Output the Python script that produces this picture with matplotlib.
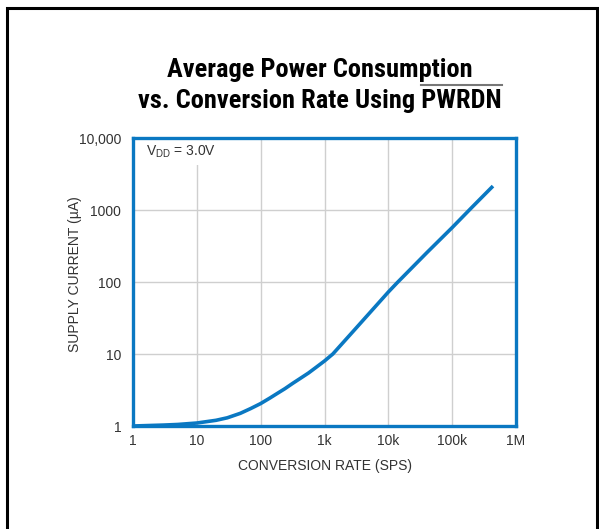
import matplotlib
matplotlib.use("Agg")
import matplotlib.pyplot as plt
from matplotlib import font_manager as fm
from matplotlib.patches import Rectangle
from matplotlib.lines import Line2D

# conversion rate (SPS) and supply current (uA)
rate = [1, 3, 5, 10, 20, 30, 48, 70, 100, 140, 178, 240, 316, 420, 562, 750,
        1000, 1350, 3000, 10000, 13800, 40000, 100000, 200000, 436000]
current = [1.0, 1.03, 1.05, 1.1, 1.2, 1.3, 1.5, 1.75, 2.05, 2.45, 2.8, 3.3,
           3.9, 4.6, 5.45, 6.6, 8.0, 10.0, 22.0, 72.6, 98.0, 255.0, 570.0,
           1070.0, 2150.0]

xticks = [1, 10, 100, 1e3, 1e4, 1e5, 1e6]
xlabels = ["1", "10", "100", "1k", "10k", "100k", "1M"]
yticks = [1, 10, 100, 1000, 10000]
ylabels = ["1", "10", "100", "1000", "10,000"]

installed = {f.name for f in fm.fontManager.ttflist}
def pick(*names):
    return [n for n in names if n in installed] + ["DejaVu Sans"]

body_font = pick("Liberation Sans", "Arimo")
title_font = pick("Roboto Condensed", "Archivo Narrow", "PT Sans Narrow",
                  "Asap Condensed", "Liberation Sans")
plt.rcParams["font.family"] = body_font

blue = "#0a78c2"
txt = "#333333"

fig = plt.figure(figsize=(5.99, 5.29), dpi=100)
ax = fig.add_axes([133 / 599, 1 - 426 / 529, 383 / 599, 288 / 529])

ax.plot(rate, current, color=blue, lw=2.6, solid_capstyle="butt",
        solid_joinstyle="round", zorder=3)

ax.set_xscale("log")
ax.set_yscale("log")
ax.set_xlim(1, 1e6)
ax.set_ylim(1, 1e4)
ax.set_xticks(xticks)
ax.set_xticklabels(xlabels)
ax.set_yticks(yticks)
ax.set_yticklabels(ylabels)
ax.minorticks_off()
ax.tick_params(length=0, labelsize=10, labelcolor=txt)
ax.tick_params(axis="x", pad=6)
ax.tick_params(axis="y", pad=8.5)
ax.grid(True, color="#cfcfcf", lw=1)
for s in ax.spines.values():
    s.set_color(blue)
    s.set_linewidth(2.4)

ax.set_xlabel("CONVERSION RATE (SPS)", fontsize=10, color=txt, labelpad=8)
ax.set_ylabel("SUPPLY CURRENT (\u00b5A)", fontsize=10, color=txt)
ax.yaxis.set_label_coords(-0.133, 0.528)

ax.text(0.034, 0.94, "V$_{\\mathregular{DD}}$ = 3.0V", transform=ax.transAxes,
        fontsize=10, color=txt, va="baseline", ha="left",
        bbox=dict(facecolor="white", edgecolor="none", pad=4), zorder=2.2)

# title, two lines, with overline on PWRDN
tsize = 19
tkw = dict(ha="center", va="baseline", fontsize=tsize, fontweight="bold",
           color="black", family=title_font)
fig.text(320 / 599, 1 - 77 / 529, "Average Power Consumption", **tkw)
t2 = fig.text(320 / 599, 1 - 108 / 529, "vs. Conversion Rate Using PWRDN", **tkw)
r = fig.canvas.get_renderer()
full = t2.get_window_extent(r)
pre = fig.text(0, 0, "vs. Conversion Rate Using ", fontsize=tsize,
               fontweight="bold", family=title_font)
pw = pre.get_window_extent(r).width
pre.remove()
x0 = (full.x0 + pw) / fig.bbox.width
x1 = full.x1 / fig.bbox.width
fig.add_artist(Line2D([x0, x1], [1 - 85 / 529] * 2, transform=fig.transFigure,
                      color="#777777", lw=1.5))

# outer frame
fig.add_artist(Rectangle((7 / 599, -0.1), 590 / 599, 1.1 - 8 / 529,
                         transform=fig.transFigure, fill=False,
                         edgecolor="black", lw=2.2))

fig.savefig("out.png", dpi=100)
